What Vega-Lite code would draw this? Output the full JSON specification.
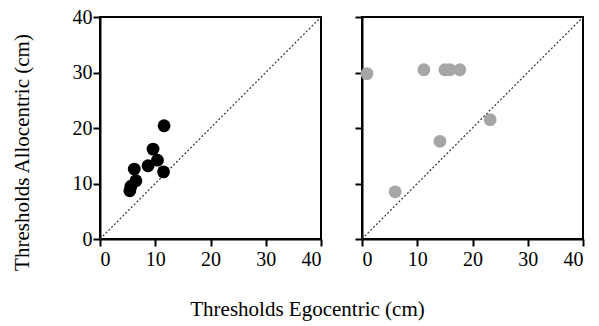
{
  "$schema": "https://vega.github.io/schema/vega-lite/v6.json",
  "padding": {"left": 9, "top": 6, "right": 5, "bottom": 5},
  "background": "white",
  "config": {
    "font": "Liberation Serif",
    "view": {"stroke": "black", "strokeWidth": 2},
    "axis": {
      "grid": false, "domainColor": "black", "domainWidth": 2, "tickColor": "black", "tickWidth": 2, "tickSize": 7,
      "labelFont": "Liberation Serif", "labelFontSize": 20, "labelColor": "black",
      "titleFont": "Liberation Serif", "titleFontSize": 21, "titleFontWeight": "normal", "titleColor": "black",
      "encode": {"labels": {"update": {"font": {"value": "Liberation Serif"}}}}
    },
    "axisX": {"labelFont": "Liberation Serif"},
    "axisY": {"labelFont": "Liberation Serif"}
  },
  "datasets": {
    "pts": [
      {"panel": "A", "ego": 11.6, "allo": 20.4},
      {"panel": "A", "ego": 9.6, "allo": 16.2},
      {"panel": "A", "ego": 10.4, "allo": 14.2},
      {"panel": "A", "ego": 8.7, "allo": 13.2},
      {"panel": "A", "ego": 11.5, "allo": 12.1},
      {"panel": "A", "ego": 6.2, "allo": 12.6},
      {"panel": "A", "ego": 6.5, "allo": 10.5},
      {"panel": "A", "ego": 5.6, "allo": 9.5},
      {"panel": "A", "ego": 5.4, "allo": 8.7},
      {"panel": "B", "ego": 0.9, "allo": 29.8},
      {"panel": "B", "ego": 11.2, "allo": 30.5},
      {"panel": "B", "ego": 15.0, "allo": 30.5},
      {"panel": "B", "ego": 15.9, "allo": 30.5},
      {"panel": "B", "ego": 17.7, "allo": 30.5},
      {"panel": "B", "ego": 23.2, "allo": 21.5},
      {"panel": "B", "ego": 14.1, "allo": 17.6},
      {"panel": "B", "ego": 6.0, "allo": 8.5}
    ],
    "diag": [{"x": 0, "y": 0, "x2": 40, "y2": 40}]
  },
  "title": {"text": "Thresholds Egocentric (cm)", "orient": "bottom", "anchor": "middle", "frame": "bounds", "fontSize": 21, "fontWeight": "normal", "font": "Liberation Serif", "color": "black", "offset": 27, "dx": 10},
  "spacing": 30,
  "hconcat": [
    {
      "width": 221, "height": 222,
      "layer": [
        {
          "data": {"name": "diag"},
          "mark": {"type": "rule", "strokeDash": [2, 2], "strokeWidth": 1.2, "color": "#333"},
          "encoding": {
            "x": {"field": "x", "type": "quantitative", "scale": {"domain": [0, 40]}},
            "y": {"field": "y", "type": "quantitative", "scale": {"domain": [0, 40]}},
            "x2": {"field": "x2"}, "y2": {"field": "y2"}
          }
        },
        {
          "data": {"name": "pts"},
          "transform": [{"filter": "datum.panel === 'A'"}],
          "mark": {"type": "circle", "size": 165, "opacity": 1, "color": "black"},
          "encoding": {
            "x": {"field": "ego", "type": "quantitative", "scale": {"domain": [0, 40], "nice": false}, "axis": {"values": [0, 10, 20, 30, 40], "title": null, "labelPadding": 3, "encode": {"labels": {"update": {"font": {"value": "Liberation Serif"}}}}}},
            "y": {"field": "allo", "type": "quantitative", "scale": {"domain": [0, 40], "nice": false}, "axis": {"values": [0, 10, 20, 30, 40], "title": "Thresholds Allocentric (cm)", "titlePadding": 40, "titleY": 135, "labelPadding": 1, "encode": {"labels": {"update": {"font": {"value": "Liberation Serif"}}}}}}
          }
        }
      ]
    },
    {
      "width": 221, "height": 222,
      "layer": [
        {
          "data": {"name": "diag"},
          "mark": {"type": "rule", "strokeDash": [2, 2], "strokeWidth": 1.2, "color": "#333"},
          "encoding": {
            "x": {"field": "x", "type": "quantitative", "scale": {"domain": [0, 40]}},
            "y": {"field": "y", "type": "quantitative", "scale": {"domain": [0, 40]}},
            "x2": {"field": "x2"}, "y2": {"field": "y2"}
          }
        },
        {
          "data": {"name": "pts"},
          "transform": [{"filter": "datum.panel === 'B'"}],
          "mark": {"type": "circle", "size": 165, "opacity": 1, "color": "#a6a6a6"},
          "encoding": {
            "x": {"field": "ego", "type": "quantitative", "scale": {"domain": [0, 40], "nice": false}, "axis": {"values": [0, 10, 20, 30, 40], "title": null, "labelPadding": 3, "encode": {"labels": {"update": {"font": {"value": "Liberation Serif"}}}}}},
            "y": {"field": "allo", "type": "quantitative", "scale": {"domain": [0, 40], "nice": false}, "axis": {"values": [0, 10, 20, 30, 40], "title": null, "labels": false}}
          }
        }
      ]
    }
  ]
}
